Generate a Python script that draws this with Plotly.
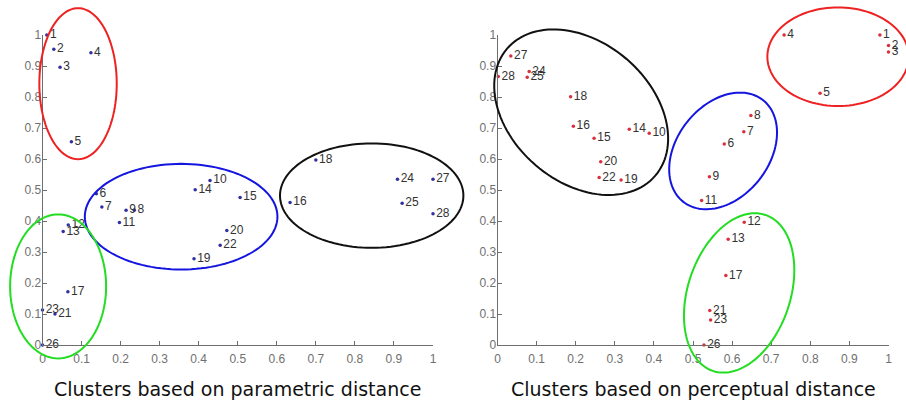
import numpy as np
import plotly.graph_objects as go

# ---------------- data ----------------
point_ids = [str(i) for i in range(1, 29)]

param_x = [0.011, 0.029, 0.045, 0.124, 0.074, 0.138, 0.152, 0.235, 0.214, 0.429,
           0.197, 0.066, 0.053, 0.391, 0.506, 0.634, 0.065, 0.700, 0.388, 0.472,
           0.032, 0.455, 0.000, 0.909, 0.921, 0.000, 1.000, 1.000]
param_y = [1.000, 0.954, 0.896, 0.943, 0.656, 0.488, 0.445, 0.435, 0.435, 0.531,
           0.395, 0.387, 0.366, 0.501, 0.476, 0.460, 0.172, 0.597, 0.278, 0.369,
           0.100, 0.322, 0.113, 0.535, 0.457, 0.000, 0.535, 0.423]

percep_x = [0.978, 1.000, 1.000, 0.733, 0.825, 0.580, 0.630, 0.648, 0.542, 0.388,
            0.522, 0.631, 0.590, 0.337, 0.247, 0.194, 0.584, 0.187, 0.316, 0.264,
            0.543, 0.260, 0.545, 0.081, 0.076, 0.528, 0.034, 0.002]
percep_y = [1.000, 0.966, 0.945, 1.000, 0.812, 0.648, 0.688, 0.740, 0.543, 0.683,
            0.466, 0.396, 0.341, 0.696, 0.667, 0.706, 0.224, 0.801, 0.532, 0.591,
            0.111, 0.540, 0.081, 0.882, 0.864, 0.000, 0.932, 0.866]

tick_vals = [0, 0.1, 0.2, 0.3, 0.4, 0.5, 0.6, 0.7, 0.8, 0.9, 1]
tick_text = ["0", "0.1", "0.2", "0.3", "0.4", "0.5", "0.6", "0.7", "0.8", "0.9", "1"]

titles = ["Clusters based on parametric distance", "Clusters based on perceptual distance"]

# cluster ellipses: (panel, centre x, centre y, semi-axis a px, semi-axis b px, angle deg, colour)
ellipses = [
    (1, 0.091, 0.843, 38.7, 75.5, 0, "#ee2222"),
    (1, 0.355, 0.414, 96.3, 52.8, 0, "#1515e0"),
    (1, 0.040, 0.189, 48.0, 72.0, 0, "#22dd22"),
    (1, 0.843, 0.482, 91.7, 52.2, 0, "#111111"),
    (2, 0.871, 0.930, 70.7, 49.3, 0, "#ee2222"),
    (2, 0.577, 0.626, 64.6, 46.2, 52, "#1515e0"),
    (2, 0.214, 0.751, 97.6, 69.9, -40.6, "#111111"),
    (2, 0.618, 0.168, 82.3, 51.2, 71.4, "#22dd22"),
]

# ---------------- layout geometry ----------------
W, H = 906, 402
x_domains = [[42.5 / W, 433.0 / W], [497.5 / W, 888.5 / W]]
y_domain = [(H - 345.0) / H, (H - 35.0) / H]
sx = [(d[1] - d[0]) * W for d in x_domains]
sy = (y_domain[1] - y_domain[0]) * H

fig = go.Figure()

label_font = dict(family="Liberation Sans, Arial", size=12, color="#333333")
fig.add_trace(go.Scatter(
    x=param_x, y=param_y, text=point_ids, mode="markers+text",
    textposition="middle right", textfont=label_font,
    marker=dict(size=3.5, color="#3030a0"), cliponaxis=False,
    xaxis="x", yaxis="y", showlegend=False, hoverinfo="skip"))
fig.add_trace(go.Scatter(
    x=percep_x, y=percep_y, text=point_ids, mode="markers+text",
    textposition="middle right", textfont=label_font,
    marker=dict(size=3.5, color="#d83040"), cliponaxis=False,
    xaxis="x2", yaxis="y2", showlegend=False, hoverinfo="skip"))

axis_style = dict(range=[0, 1], tickvals=tick_vals, ticktext=tick_text,
                  showgrid=False, zeroline=False, showline=True, automargin=False,
                  linecolor="#6e6e6e", linewidth=1, ticks="inside", ticklen=4,
                  tickcolor="#6e6e6e",
                  tickfont=dict(family="Liberation Sans, Arial", size=12, color="#707070"))

fig.update_layout(
    width=W, height=H, margin=dict(l=0, r=0, t=0, b=0, autoexpand=False),
    paper_bgcolor="white", plot_bgcolor="white",
    xaxis=dict(domain=x_domains[0], anchor="y", ticklabelstandoff=3, **axis_style),
    yaxis=dict(domain=y_domain, anchor="x", ticklabelstandoff=-2, **axis_style),
    xaxis2=dict(domain=x_domains[1], anchor="y2", ticklabelstandoff=3, **axis_style),
    yaxis2=dict(domain=y_domain, anchor="x2", ticklabelstandoff=-2, **axis_style),
)

shapes = []
t = np.linspace(0, 2 * np.pi, 121)
for panel, cx, cy, a, b, ang, col in ellipses:
    th = np.deg2rad(ang)
    px = a * np.cos(t) * np.cos(th) - b * np.sin(t) * np.sin(th)
    py = a * np.cos(t) * np.sin(th) + b * np.sin(t) * np.cos(th)
    xs = cx + px / sx[panel - 1]
    ys = cy + py / sy
    path = "M " + " L ".join(f"{x:.5f},{y:.5f}" for x, y in zip(xs, ys)) + " Z"
    xr = "x domain" if panel == 1 else "x2 domain"
    yr = "y domain" if panel == 1 else "y2 domain"
    shapes.append(dict(type="path", path=path, xref=xr, yref=yr,
                       line=dict(color=col, width=2)))
fig.update_layout(shapes=shapes)

for i, ttl in enumerate(titles):
    fig.add_annotation(text=ttl, xref="paper", yref="paper",
                       x=sum(x_domains[i]) / 2, y=(H - 389.0) / H,
                       xanchor="center", yanchor="middle", showarrow=False,
                       font=dict(family="DejaVu Sans", size=19, color="#111111"))

fig.write_html("out.html", config={"displayModeBar": False},
               post_script="document.body.style.margin='0';document.body.style.overflow='hidden';")
